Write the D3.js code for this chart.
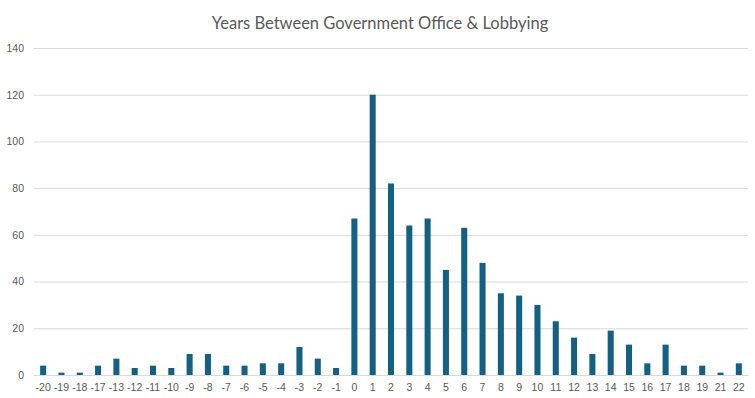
<!DOCTYPE html>
<html>
<head>
<meta charset="utf-8">
<script src="https://cdn.jsdelivr.net/npm/d3@7"></script>
<style>
  html, body { margin: 0; padding: 0; background: #fff; }
  svg { display: block; }
</style>
</head>
<body>
<svg id="chart"></svg>
<script>
const years = ['-20', '-19', '-18', '-17', '-13', '-12', '-11', '-10', '-9', '-8', '-7', '-6', '-5', '-4', '-3', '-2', '-1',
  '0', '1', '2', '3', '4', '5', '6', '7', '8', '9', '10', '11', '12', '13', '14', '15', '16', '17', '18', '19', '21', '22'];
const counts = [4, 1, 1, 4, 7, 3, 4, 3, 9, 9, 4, 4, 5, 5, 12, 7, 3,
  67, 120, 82, 64, 67, 45, 63, 48, 35, 34, 30, 23, 16, 9, 19, 13, 5, 13, 4, 4, 1, 5];
const yTicks = [0, 20, 40, 60, 80, 100, 120, 140];

const width = 755;
const height = 398;
const margin = { top: 48, right: 7, bottom: 23, left: 34 };
const innerW = width - margin.left - margin.right;
const innerH = height - margin.top - margin.bottom;

const svg = d3.select('#chart')
  .attr('width', width)
  .attr('height', height)
  .style('font-family', '"Liberation Sans", Arial, sans-serif');

svg.append('text')
  .attr('x', 380)
  .attr('y', 29)
  .attr('text-anchor', 'middle')
  .attr('fill', '#595959')
  .style('font-family', 'Lato, sans-serif')
  .style('font-size', '16.5px')
  .text('Years Between Government Office & Lobbying');

const g = svg.append('g')
  .attr('transform', `translate(${margin.left},${margin.top})`);

const xScale = d3.scaleBand()
  .domain(years)
  .range([0, innerW])
  .paddingInner(0.67)
  .paddingOuter(0.335);

const yScale = d3.scaleLinear()
  .domain([0, 140])
  .range([innerH, 0]);

// gridlines + y labels
const yAxis = d3.axisLeft(yScale)
  .tickValues(yTicks)
  .tickSize(-innerW)
  .tickPadding(10);

g.append('g')
  .attr('class', 'y-axis')
  .call(yAxis)
  .call(sel => sel.select('.domain').remove())
  .call(sel => sel.selectAll('line').attr('stroke', '#d9d9d9').attr('stroke-width', 1))
  .call(sel => sel.selectAll('text')
    .attr('fill', '#595959')
    .style('font-size', '10.5px'));

g.selectAll('rect.bar')
  .data(counts)
  .enter()
  .append('rect')
  .attr('class', 'bar')
  .attr('x', (d, i) => xScale(years[i]))
  .attr('y', d => yScale(d))
  .attr('width', xScale.bandwidth())
  .attr('height', d => innerH - yScale(d))
  .attr('fill', '#156082');

const xAxis = d3.axisBottom(xScale)
  .tickSize(0)
  .tickPadding(9);

g.append('g')
  .attr('class', 'x-axis')
  .attr('transform', `translate(0,${innerH})`)
  .call(xAxis)
  .call(sel => sel.select('.domain').attr('stroke', '#d9d9d9'))
  .call(sel => sel.selectAll('text')
    .attr('fill', '#595959')
    .style('font-size', '10.5px'));
</script>
</body>
</html>
